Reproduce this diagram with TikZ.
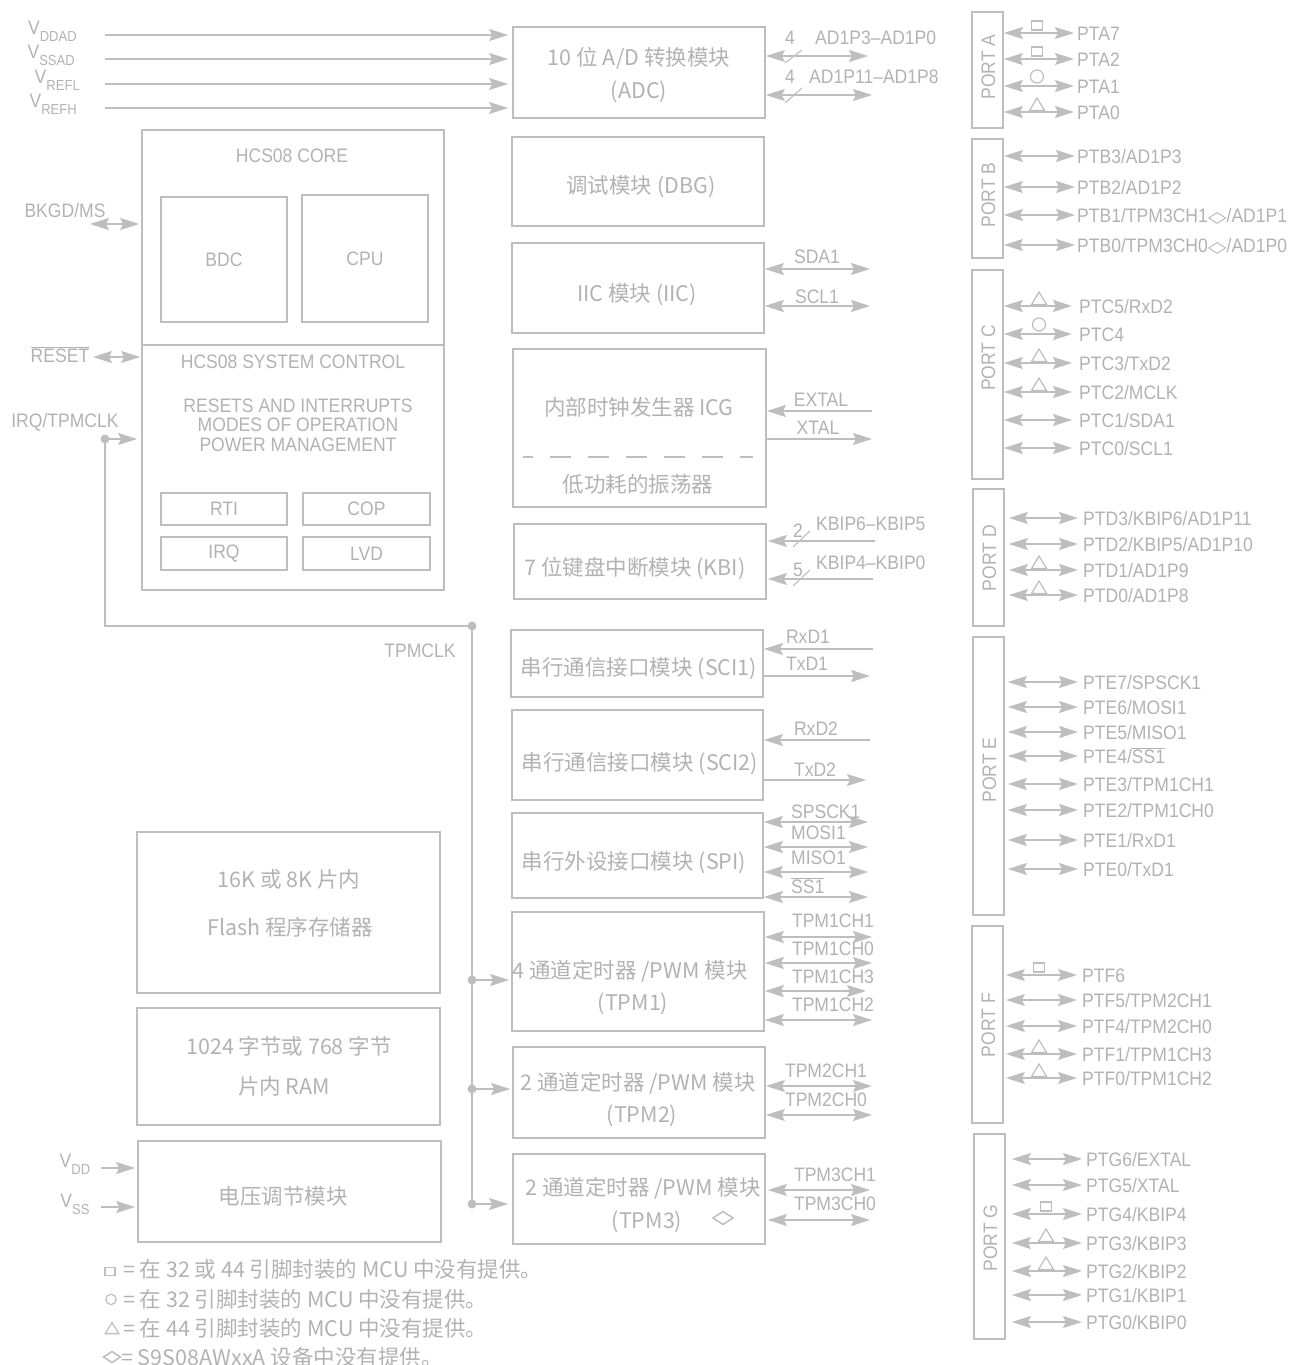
\documentclass[tikz,border=0pt]{standalone}
\usepackage{fontspec}
\usepackage{graphicx}
\setmainfont{Liberation Sans}[FakeStretch=0.9]
\newfontfamily\cjk{Noto Sans CJK SC}
\newfontfamily\symfont{DejaVu Sans}
\usepackage{tikz}
\usetikzlibrary{arrows.meta, positioning, calc}
\definecolor{lg}{RGB}{190,190,190}
\definecolor{lgt}{RGB}{178,178,178}
\newcommand{\dmd}{{\symfont\scalebox{1.25}[0.8]{◇}}}
\newcommand{\ovl}[1]{$\overline{\mbox{#1}}$}
\newcommand{\sbs}[1]{\raisebox{-7pt}{\fontsize{14.5}{14.5}\selectfont #1}}
\tikzstyle{blk} = [draw=lg, line width=1.7pt, inner sep=0pt, text=lgt, font=\fontsize{19.5}{22}\selectfont]
\tikzstyle{txt} = [text=lgt, inner sep=0pt, text height=14pt, text depth=0pt, font=\fontsize{19.5}{22}\selectfont]
\tikzstyle{cjktxt} = [text=lgt, inner sep=0pt, text height=16pt, text depth=0pt, font=\cjk\fontsize{21.5}{24}\selectfont]
\tikzstyle{wire} = [lg, line width=1.7pt]
\tikzstyle{arrow} = [wire, ->]
\tikzstyle{biarrow} = [wire, <->]
\tikzstyle{bus} = [lg, line width=1.1pt]
\tikzstyle{dot} = [circle, fill=lg, minimum size=9pt, inner sep=0pt]
\tikzset{
  sqmark/.pic={\draw[lg, line width=1.2pt] (-5.5,-3) rectangle (5.5,-12);},
  cimark/.pic={\draw[lg, line width=1.2pt] (0,-9.5) circle [radius=6.5];},
  trmark/.pic={\draw[lg, line width=1.2pt] (-7.5,-1.5) -- (0,-14) -- (7.5,-1.5) -- cycle;},
  dmmark/.pic={\draw[lg, line width=1.5pt] (-10,0) -- (0,-6.5) -- (10,0) -- (0,6.5) -- cycle;},
  nomark/.pic={\path (0,0);}
}

\begin{document}
\begin{tikzpicture}[x=1pt, y=-1pt, >={Stealth[length=19pt, width=12pt, inset=3pt]}]
    \useasboundingbox (0,0) rectangle (1291,1365);

    % Middle column of modules
    \node[blk, minimum width=252pt, minimum height=91pt] (adc) at (639,72.5) {};
    \node[cjktxt] (adc-a) at (639,57) {10 位 A/D 转换模块};
    \node[cjktxt] (adc-b) at (639,90) {(ADC)};
    \node[blk, minimum width=252pt, minimum height=89pt] (dbg) at (638,181.5) {};
    \node[cjktxt] (dbg-a) at (641,185) {调试模块 (DBG)};
    \node[blk, minimum width=252pt, minimum height=90pt] (iic) at (638,288) {};
    \node[cjktxt] (iic-a) at (637,293) {IIC 模块 (IIC)};
    \node[blk, minimum width=253pt, minimum height=158pt] (icg) at (639.5,428) {};
    \node[cjktxt] (icg-a) at (639,407) {内部时钟发生器 ICG};
    \node[cjktxt] (icg-b) at (638,484) {低功耗的振荡器};
    \draw[lg, line width=1.7pt, dash pattern=on 21pt off 17pt, dash phase=11pt] (523,457) -- (753,457);
    \node[blk, minimum width=252pt, minimum height=75pt] (kbi) at (640,561.5) {};
    \node[cjktxt] (kbi-a) at (635,567) {7 位键盘中断模块 (KBI)};
    \node[blk, minimum width=252pt, minimum height=67pt] (sci1) at (637,663.5) {};
    \node[cjktxt] (sci1-a) at (639,667) {串行通信接口模块 (SCI1)};
    \node[blk, minimum width=251pt, minimum height=90pt] (sci2) at (637.5,755) {};
    \node[cjktxt] (sci2-a) at (640,762) {串行通信接口模块 (SCI2)};
    \node[blk, minimum width=251pt, minimum height=85pt] (spi) at (637.5,855.5) {};
    \node[cjktxt] (spi-a) at (634,861) {串行外设接口模块 (SPI)};
    \node[blk, minimum width=252pt, minimum height=119pt] (tpm1) at (638,971.5) {};
    \node[cjktxt] (tpm1-a) at (630,970) {4 通道定时器 /PWM 模块};
    \node[cjktxt] (tpm1-b) at (633,1002) {(TPM1)};
    \node[blk, minimum width=252pt, minimum height=91pt] (tpm2) at (639,1092.5) {};
    \node[cjktxt] (tpm2-a) at (638,1082) {2 通道定时器 /PWM 模块};
    \node[cjktxt] (tpm2-b) at (642,1114) {(TPM2)};
    \node[blk, minimum width=252pt, minimum height=90pt] (tpm3) at (639,1199) {};
    \node[cjktxt] (tpm3-a) at (643,1187) {2 通道定时器 /PWM 模块};
    \node[cjktxt] (tpm3-b) at (647,1220) {(TPM3)};
    \pic at (723,1218) {dmmark};

    % HCS08 core and system control
    \node[blk, minimum width=302pt, minimum height=460pt] (core) at (293,360) {};
    \draw[wire] (core.west |- 0,345) -- (core.east |- 0,345);
    \node[txt] (core-a) at (292,155) {HCS08 CORE};
    \node[blk, minimum width=126pt, minimum height=125pt] (bdc) at (224,259.5) {BDC};
    \node[blk, minimum width=126pt, minimum height=127pt] (cpu) at (365,258.5) {CPU};
    \node[txt] (sys-a) at (293,361) {HCS08 SYSTEM CONTROL};
    \node[text=lgt, inner sep=0pt, align=center, font=\fontsize{19.5}{19.5}\selectfont] (sys-b) at (298,425) {RESETS AND INTERRUPTS\\MODES OF OPERATION\\POWER MANAGEMENT};
    \node[blk, minimum width=126pt, minimum height=32pt] (rti) at (224,509) {RTI};
    \node[blk, minimum width=127pt, minimum height=32pt] (cop) at (366.5,509) {COP};
    \node[blk, minimum width=126pt, minimum height=33pt] (irq) at (224,553.5) {IRQ};
    \node[blk, minimum width=127pt, minimum height=33pt] (lvd) at (366.5,553.5) {LVD};

    % Memories and regulator
    \node[blk, minimum width=303pt, minimum height=161pt] (flash) at (288.5,912.5) {};
    \node[cjktxt] (flash-a) at (289,879) {16K 或 8K 片内};
    \node[cjktxt] (flash-b) at (290,927) {Flash 程序存储器};
    \node[blk, minimum width=303pt, minimum height=117pt] (ram) at (288.5,1066.5) {};
    \node[cjktxt] (ram-a) at (289,1046) {1024 字节或 768 字节};
    \node[cjktxt] (ram-b) at (284,1086) {片内 RAM};
    \node[blk, minimum width=303pt, minimum height=101pt] (vreg) at (289.5,1191.5) {};
    \node[cjktxt] (vreg-a) at (283,1196) {电压调节模块};

    % Analog supply inputs
    \foreach \y/\t/\lx in {35/DDAD/77, 59/SSAD/75, 84/REFL/80, 108/REFH/77} {
        \node[txt, anchor=east] (v-\t) at (\lx,\y-8) {V\sbs{\t}};
        \coordinate (vin-\t) at (105,\y);
        \draw[arrow, shorten >=4pt] (vin-\t) -- (vin-\t -| adc.west);
    }

    % Core pins
    \node[txt] (bkgd) at (65,210) {BKGD/MS};
    \coordinate (bkgd-in) at (90,224);
    \draw[biarrow, shorten >=2pt] (bkgd-in) -- (bkgd-in -| core.west);
    \node[txt] (reset) at (60,355) {\ovl{RESET}};
    \coordinate (reset-in) at (93,357);
    \draw[biarrow, shorten >=1pt] (reset-in) -- (reset-in -| core.west);
    \node[txt] (irqclk) at (65,420) {IRQ/TPMCLK};
    \node[dot] (irqdot) at (105,439) {};
    \draw[arrow, shorten >=4pt] (irqdot.center) -- (irqdot.center -| core.west);

    % TPMCLK distribution
    \node[dot] (clkdot) at (472,626) {};
    \node[txt] (tpmclk) at (420,650) {TPMCLK};
    \draw[wire] (irqdot.center) |- (clkdot.center);
    \node[dot] (t1) at (472,980) {};
    \node[dot] (t2) at (472,1089) {};
    \node[dot] (t3) at (472,1204) {};
    \draw[wire] (clkdot.center) -- (t3.center);
    \draw[arrow, shorten >=2pt] (t1.center) -- (t1.center -| tpm1.west);
    \draw[arrow, shorten >=2pt] (t2.center) -- (t2.center -| tpm2.west);
    \draw[arrow, shorten >=4pt] (t3.center) -- (t3.center -| tpm3.west);

    % Regulator supplies
    \node[txt] (vdd) at (75,1160) {V\sbs{DD}};
    \coordinate (vdd-in) at (101,1168);
    \draw[arrow, shorten >=2pt] (vdd-in) -- (vdd-in -| vreg.west);
    \node[txt] (vss) at (75,1200) {V\sbs{SS}};
    \coordinate (vss-in) at (101,1207);
    \draw[arrow, shorten >=2pt] (vss-in) -- (vss-in -| vreg.west);

    % ADC pins
    \coordinate (adc-p1) at (868,56);
    \coordinate (adc-p2) at (872,95);
    \draw[biarrow] (adc-p1 -| adc.east) -- (adc-p1);
    \draw[biarrow] (adc-p2 -| adc.east) -- (adc-p2);
    \draw[bus] (785,63) -- (802,50);
    \draw[bus] (785,103) -- (802,88);
    \node[txt] (adc-n1) at (790,37) {4};
    \node[txt] (adc-n2) at (790,76) {4};
    \node[txt, anchor=west] (adc-l1) at (815,37) {AD1P3–AD1P0};
    \node[txt, anchor=west] (adc-l2) at (809,76) {AD1P11–AD1P8};

    % IIC pins
    \foreach \y/\ly/\t [count=\i] in {269/256/SDA1, 306/296/SCL1} {
        \coordinate (iic-p\i) at (870,\y);
        \draw[biarrow] (iic-p\i -| iic.east) -- (iic-p\i);
        \node[txt] (iic-l\i) at (817,\ly) {\t};
    }

    % ICG pins
    \coordinate (extal) at (872,411);
    \coordinate (xtal) at (872,439);
    \draw[arrow] (extal) -- (extal -| icg.east);
    \draw[arrow] (xtal -| icg.east) -- (xtal);
    \node[txt] (extal-l) at (821,399) {EXTAL};
    \node[txt] (xtal-l) at (818,427) {XTAL};

    % KBI pins
    \coordinate (kbi-p1) at (875,541);
    \coordinate (kbi-p2) at (873,579);
    \draw[arrow, shorten >=1pt] (kbi-p1) -- (kbi-p1 -| kbi.east);
    \draw[arrow, shorten >=1pt] (kbi-p2) -- (kbi-p2 -| kbi.east);
    \draw[bus] (793,547) -- (810,531);
    \draw[bus] (793,586) -- (810,570);
    \node[txt] (kbi-n1) at (798,530) {2};
    \node[txt] (kbi-n2) at (798,569) {5};
    \node[txt, anchor=west] (kbi-l1) at (816,523) {KBIP6–KBIP5};
    \node[txt, anchor=west] (kbi-l2) at (816,562) {KBIP4–KBIP0};

    % SCI pins
    \coordinate (rxd1) at (873,649);
    \coordinate (txd1) at (870,676);
    \draw[arrow] (rxd1) -- (rxd1 -| sci1.east);
    \draw[arrow] (txd1 -| sci1.east) -- (txd1);
    \node[txt] (rxd1-l) at (808,636) {RxD1};
    \node[txt] (txd1-l) at (807,663) {TxD1};
    \coordinate (rxd2) at (870,740);
    \coordinate (txd2) at (866,780);
    \draw[arrow] (rxd2) -- (rxd2 -| sci2.east);
    \draw[arrow] (txd2 -| sci2.east) -- (txd2);
    \node[txt] (rxd2-l) at (816,728) {RxD2};
    \node[txt] (txd2-l) at (815,769) {TxD2};

    % SPI pins
    \foreach \y/\ly/\t [count=\i] in {822/811/SPSCK1, 847/832/MOSI1, 872/857/MISO1, 897/886/{\ovl{SS1}}} {
        \coordinate (spi-p\i) at (868,\y);
        \draw[biarrow] (spi-p\i -| spi.east) -- (spi-p\i);
        \node[txt, anchor=west] (spi-l\i) at (791,\ly) {\t};
    }

    % TPM pins
    \foreach \y/\ex/\ly/\t [count=\i] in {937/872/920/TPM1CH1, 963/872/948/TPM1CH0, 991/866/976/TPM1CH3, 1020/872/1004/TPM1CH2} {
        \coordinate (tpm1-p\i) at (\ex,\y);
        \draw[biarrow] (tpm1-p\i -| tpm1.east) -- (tpm1-p\i);
        \node[txt] (tpm1-l\i) at (833,\ly) {\t};
    }
    \foreach \y/\ly/\t [count=\i] in {1086/1070/TPM2CH1, 1115/1099/TPM2CH0} {
        \coordinate (tpm2-p\i) at (872,\y);
        \draw[biarrow] (tpm2-p\i -| tpm2.east) -- (tpm2-p\i);
        \node[txt] (tpm2-l\i) at (826,\ly) {\t};
    }
    \foreach \y/\ly/\t [count=\i] in {1190/1174/TPM3CH1, 1220/1203/TPM3CH0} {
        \coordinate (tpm3-p\i) at (870,\y);
        \draw[biarrow, shorten <=2pt] (tpm3-p\i -| tpm3.east) -- (tpm3-p\i);
        \node[txt] (tpm3-l\i) at (835,\ly) {\t};
    }

    % Ports
    \node[blk, minimum width=31pt, minimum height=116pt] (pa) at (987.5,70) {};
    \node[blk, minimum width=31pt, minimum height=119pt] (pb) at (987.5,198.5) {};
    \node[blk, minimum width=31pt, minimum height=209pt] (pc) at (987.5,374.5) {};
    \node[blk, minimum width=31pt, minimum height=137pt] (pd) at (988.5,557.5) {};
    \node[blk, minimum width=31pt, minimum height=278pt] (pe) at (988.5,776) {};
    \node[blk, minimum width=31pt, minimum height=197pt] (pf) at (987.5,1024.5) {};
    \node[blk, minimum width=31pt, minimum height=205pt] (pg) at (989.5,1236.5) {};
    \node[txt, rotate=90] (pa-t) at (988,67) {PORT A};
    \node[txt, rotate=90] (pb-t) at (988,195) {PORT B};
    \node[txt, rotate=90] (pc-t) at (988,358) {PORT C};
    \node[txt, rotate=90] (pd-t) at (989,558) {PORT D};
    \node[txt, rotate=90] (pe-t) at (989,770) {PORT E};
    \node[txt, rotate=90] (pf-t) at (988,1025) {PORT F};
    \node[txt, rotate=90] (pg-t) at (990,1238) {PORT G};

    \foreach \y/\t/\m [count=\i] in {33/PTA7/sqmark, 59/PTA2/sqmark, 86/PTA1/cimark, 112/PTA0/trmark} {
        \node[txt, anchor=west] (pa-\i) at (1077,\y) {\t};
        \draw[biarrow, shorten >=3pt] (pa.east |- pa-\i.west) -- (pa-\i.west);
        \pic at (1037,\y) {\m};
    }
    \foreach \y/\t [count=\i] in {156/{PTB3/AD1P3}, 187/{PTB2/AD1P2}, 215/{PTB1/TPM3CH1\dmd/AD1P1}, 245/{PTB0/TPM3CH0\dmd/AD1P0}} {
        \node[txt, anchor=west] (pb-\i) at (1077,\y) {\t};
        \draw[biarrow, shorten >=2pt] (pb.east |- pb-\i.west) -- (pb-\i.west);
    }
    \foreach \y/\t/\m [count=\i] in {306/{PTC5/RxD2}/trmark, 334/PTC4/cimark, 363/{PTC3/TxD2}/trmark, 392/{PTC2/MCLK}/trmark, 420/{PTC1/SDA1}/nomark, 448/{PTC0/SCL1}/nomark} {
        \node[txt, anchor=west] (pc-\i) at (1079,\y) {\t};
        \draw[biarrow, shorten >=7pt] (pc.east |- pc-\i.west) -- (pc-\i.west);
        \pic at (1039,\y) {\m};
    }
    \foreach \y/\t/\m [count=\i] in {518/{PTD3/KBIP6/AD1P11}/nomark, 544/{PTD2/KBIP5/AD1P10}/nomark, 570/{PTD1/AD1P9}/trmark, 595/{PTD0/AD1P8}/trmark} {
        \node[txt, anchor=west] (pd-\i) at (1083,\y) {\t};
        \draw[biarrow, shorten >=5pt, shorten <=4pt] (pd.east |- pd-\i.west) -- (pd-\i.west);
        \pic at (1039,\y) {\m};
    }
    \foreach \y/\t [count=\i] in {682/{PTE7/SPSCK1}, 707/{PTE6/MOSI1}, 732/{PTE5/MISO1}, 756/{PTE4/\ovl{SS1}}, 784/{PTE3/TPM1CH1}, 810/{PTE2/TPM1CH0}, 840/{PTE1/RxD1}, 869/{PTE0/TxD1}} {
        \node[txt, anchor=west] (pe-\i) at (1083,\y) {\t};
        \draw[biarrow, shorten >=5pt, shorten <=3pt] (pe.east |- pe-\i.west) -- (pe-\i.west);
    }
    \foreach \y/\t/\m [count=\i] in {975/PTF6/sqmark, 1000/{PTF5/TPM2CH1}/nomark, 1026/{PTF4/TPM2CH0}/nomark, 1054/{PTF1/TPM1CH3}/trmark, 1078/{PTF0/TPM1CH2}/trmark} {
        \node[txt, anchor=west] (pf-\i) at (1082,\y) {\t};
        \draw[biarrow, shorten >=5pt, shorten <=2pt] (pf.east |- pf-\i.west) -- (pf-\i.west);
        \pic at (1039,\y) {\m};
    }
    \foreach \y/\t/\m [count=\i] in {1159/{PTG6/EXTAL}/nomark, 1185/{PTG5/XTAL}/nomark, 1214/{PTG4/KBIP4}/sqmark, 1243/{PTG3/KBIP3}/trmark, 1271/{PTG2/KBIP2}/trmark, 1295/{PTG1/KBIP1}/nomark, 1322/{PTG0/KBIP0}/nomark} {
        \node[txt, anchor=west] (pg-\i) at (1086,\y) {\t};
        \draw[biarrow, shorten >=4pt, shorten <=6pt] (pg.east |- pg-\i.west) -- (pg-\i.west);
        \pic at (1046,\y) {\m};
    }

    % Legend
    \pic[scale=0.9] at (110,1278) {sqmark};
    \node[cjktxt, anchor=west] (leg-1) at (123,1269) {= 在 32 或 44 引脚封装的 MCU 中没有提供。};
    \pic[scale=0.8] at (111,1307) {cimark};
    \node[cjktxt, anchor=west] (leg-2) at (123,1299) {= 在 32 引脚封装的 MCU 中没有提供。};
    \pic[scale=0.9] at (112,1335) {trmark};
    \node[cjktxt, anchor=west] (leg-3) at (123,1328) {= 在 44 引脚封装的 MCU 中没有提供。};
    \pic[scale=0.85] at (112,1357) {dmmark};
    \node[cjktxt, anchor=west] (leg-4) at (121,1357) {= S9S08AWxxA 设备中没有提供。};
\end{tikzpicture}
\end{document}
